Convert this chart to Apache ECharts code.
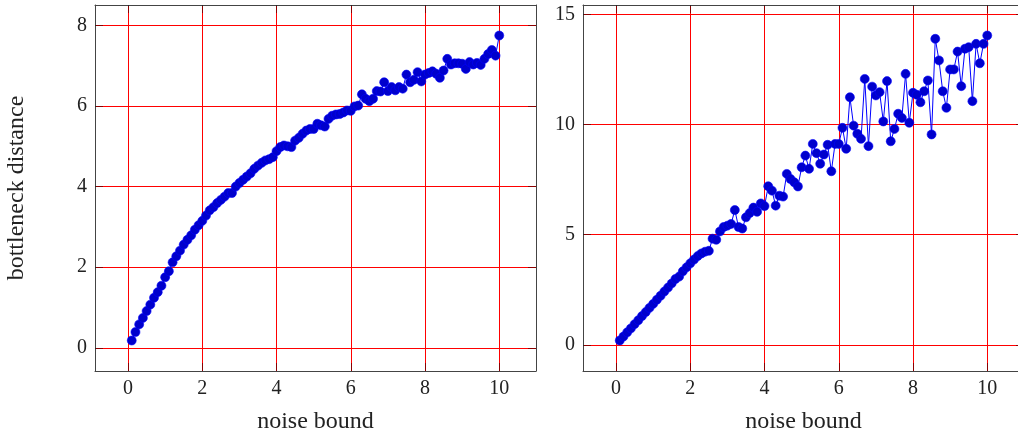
<!DOCTYPE html>
<html>
<head>
<meta charset="utf-8">
<script src="https://cdn.jsdelivr.net/npm/echarts@6/dist/echarts.min.js"></script>
<style>
html,body{margin:0;padding:0;background:#fff;}
#chart{width:1018px;height:434px;}
</style>
</head>
<body>
<div id="chart"></div>
<script>
// noise bound values (x)
var noiseBound = [0.1,0.2,0.3,0.4,0.5,0.6,0.7,0.8,0.9,1.0,
  1.1,1.2,1.3,1.4,1.5,1.6,1.7,1.8,1.9,2.0,
  2.1,2.2,2.3,2.4,2.5,2.6,2.7,2.8,2.9,3.0,
  3.1,3.2,3.3,3.4,3.5,3.6,3.7,3.8,3.9,4.0,
  4.1,4.2,4.3,4.4,4.5,4.6,4.7,4.8,4.9,5.0,
  5.1,5.2,5.3,5.4,5.5,5.6,5.7,5.8,5.9,6.0,
  6.1,6.2,6.3,6.4,6.5,6.6,6.7,6.8,6.9,7.0,
  7.1,7.2,7.3,7.4,7.5,7.6,7.7,7.8,7.9,8.0,
  8.1,8.2,8.3,8.4,8.5,8.6,8.7,8.8,8.9,9.0,
  9.1,9.2,9.3,9.4,9.5,9.6,9.7,9.8,9.9,10.0];

// left panel: bottleneck distance
var leftDistance = [0.18,0.39,0.58,0.74,0.91,1.07,1.24,1.38,1.54,1.75,
  1.90,2.12,2.27,2.41,2.56,2.68,2.79,2.93,3.04,3.15,
  3.28,3.41,3.49,3.59,3.67,3.75,3.84,3.84,4.00,4.09,
  4.17,4.25,4.33,4.44,4.52,4.59,4.65,4.68,4.73,4.88,
  4.98,5.02,5.00,4.98,5.14,5.21,5.31,5.39,5.43,5.43,
  5.56,5.52,5.49,5.68,5.76,5.79,5.80,5.84,5.89,5.88,
  5.99,6.01,6.29,6.18,6.12,6.18,6.37,6.36,6.59,6.37,
  6.47,6.39,6.47,6.43,6.78,6.59,6.65,6.84,6.61,6.78,
  6.82,6.86,6.80,6.70,6.88,7.17,7.03,7.06,7.06,7.05,
  6.92,7.09,7.03,7.07,7.02,7.17,7.29,7.39,7.25,7.75];

// right panel: bottleneck distance
var rightDistance = [0.20,0.38,0.57,0.75,0.94,1.12,1.31,1.49,1.68,1.86,
  2.05,2.23,2.42,2.60,2.79,2.99,3.10,3.34,3.52,3.70,
  3.87,4.03,4.15,4.23,4.27,4.82,4.77,5.15,5.35,5.41,
  5.49,6.12,5.35,5.28,5.79,5.98,6.23,6.04,6.42,6.30,
  7.20,7.00,6.32,6.77,6.73,7.76,7.53,7.38,7.19,8.06,
  8.59,7.99,9.12,8.70,8.22,8.64,9.08,7.88,9.12,9.12,
  9.85,8.90,11.24,9.95,9.58,9.35,12.07,9.02,11.72,11.32,
  11.47,10.14,11.97,9.24,9.80,10.49,10.30,12.30,10.08,11.44,
  11.35,11.01,11.51,12.00,9.55,13.89,12.91,11.51,10.76,12.50,
  12.50,13.31,11.74,13.44,13.51,11.06,13.66,12.78,13.66,14.04];

// tick labels
var xTicks = [0,2,4,6,8,10];
var leftYTicks = [0,2,4,6,8];
var rightYTicks = [0,5,10,15];

var FONT = '"Liberation Serif", "DejaVu Serif", serif';
var FRAME = '#444';
var TICKC = 'rgba(0,0,0,0.45)';

function pairs(xs, ys){ var out=[]; for(var i=0;i<xs.length;i++) out.push([xs[i], ys[i]]); return out; }

function mainX(gi, name){
  return {
    type:'value', gridIndex:gi, position:'bottom', min:-0.89, max:10.99,
    name:name, nameLocation:'middle', nameGap:39,
    nameTextStyle:{fontFamily:FONT, fontSize:24, color:'#222'},
    axisLine:{show:true, onZero:false, lineStyle:{color:FRAME, width:1}},
    axisTick:{show:true, inside:true, length:8, customValues:xTicks, lineStyle:{color:TICKC, width:1}},
    axisLabel:{show:true, customValues:xTicks, margin:8, fontFamily:FONT, fontSize:20, color:'#222'},
    splitLine:{show:true, lineStyle:{color:'#ff0000', width:1}}
  };
}
function topX(gi){
  return {
    type:'value', gridIndex:gi, position:'top', min:-0.89, max:10.99,
    axisLine:{show:true, onZero:false, lineStyle:{color:FRAME, width:1}},
    axisTick:{show:true, inside:true, length:8, customValues:xTicks, lineStyle:{color:TICKC, width:1}},
    axisLabel:{show:false},
    splitLine:{show:false}
  };
}
function mainY(gi, mn, mx, ticks, name){
  return {
    type:'value', gridIndex:gi, position:'left', min:mn, max:mx,
    name:name, nameLocation:'middle', nameGap:66, nameRotate:90,
    nameTextStyle:{fontFamily:FONT, fontSize:24, color:'#222'},
    axisLine:{show:true, onZero:false, lineStyle:{color:FRAME, width:1}},
    axisTick:{show:true, inside:true, length:8, customValues:ticks, lineStyle:{color:TICKC, width:1}},
    axisLabel:{show:true, customValues:ticks, margin:8, fontFamily:FONT, fontSize:20, color:'#222'},
    splitLine:{show:true, lineStyle:{color:'#ff0000', width:1}}
  };
}
function rightY(gi, mn, mx, ticks){
  return {
    type:'value', gridIndex:gi, position:'right', min:mn, max:mx,
    axisLine:{show:true, onZero:false, lineStyle:{color:FRAME, width:1}},
    axisTick:{show:true, inside:true, length:8, customValues:ticks, lineStyle:{color:TICKC, width:1}},
    axisLabel:{show:false},
    splitLine:{show:false}
  };
}

var seriesStyle = {
  type:'line', symbol:'circle', symbolSize:9,
  lineStyle:{color:'#0000ff', width:1},
  itemStyle:{color:'#0000cc', borderColor:'#0000ff', borderWidth:0.6},
  animation:false, clip:false, z:5
};

var chart = echarts.init(document.getElementById('chart'), null, {renderer:'canvas'});
chart.setOption({
  backgroundColor:'#fff',
  animation:false,
  grid:[
    {left:95, top:5, width:441, height:366, containLabel:false, outerBoundsMode:'none'},
    {left:583, top:5, width:441, height:366, containLabel:false, outerBoundsMode:'none'}
  ],
  xAxis:[ mainX(0,'noise bound'), topX(0), mainX(1,'noise bound'), topX(1) ],
  yAxis:[
    mainY(0, -0.577, 8.507, leftYTicks, 'bottleneck distance'),
    rightY(0, -0.577, 8.507, leftYTicks),
    mainY(1, -1.184, 15.424, rightYTicks, ''),
    rightY(1, -1.184, 15.424, rightYTicks)
  ],
  series:[
    Object.assign({}, seriesStyle, {xAxisIndex:0, yAxisIndex:0, data:pairs(noiseBound, leftDistance)}),
    Object.assign({}, seriesStyle, {xAxisIndex:2, yAxisIndex:2, data:pairs(noiseBound, rightDistance)})
  ]
});
</script>
</body>
</html>
